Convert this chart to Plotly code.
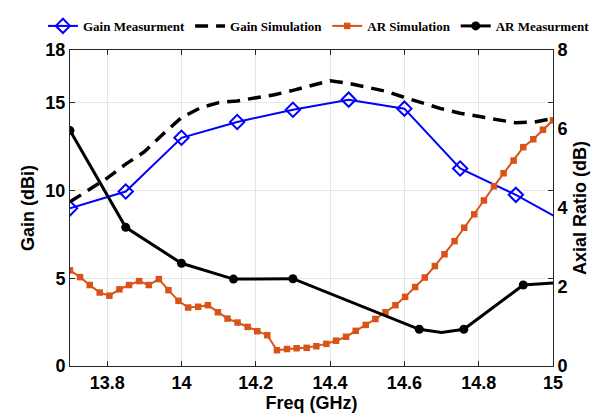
import plotly.graph_objects as go

# ---------------- data ----------------
gain_meas_freq = [13.7, 13.85, 14.0, 14.15, 14.3, 14.45, 14.6, 14.75, 14.9, 15.05]
gain_meas = [8.98, 9.94, 13.0, 13.9, 14.6, 15.17, 14.66, 11.25, 9.75, 8.0]

gain_sim_freq = [13.70, 13.75, 13.80, 13.85, 13.90, 13.95, 14.00, 14.05, 14.10, 14.15,
                 14.20, 14.25, 14.30, 14.35, 14.40, 14.45, 14.50, 14.55, 14.60, 14.65,
                 14.70, 14.75, 14.80, 14.85, 14.90, 14.95, 15.00]
gain_sim = [9.35, 10.05, 10.7, 11.5, 12.2, 13.2, 14.15, 14.7, 15.0, 15.1,
            15.25, 15.45, 15.7, 16.0, 16.25, 16.1, 15.9, 15.65, 15.3, 14.95,
            14.65, 14.4, 14.2, 14.0, 13.85, 13.9, 14.1]

ar_sim_freq = [13.700, 13.727, 13.753, 13.780, 13.806, 13.833, 13.859, 13.886, 13.912, 13.939,
               13.965, 13.992, 14.018, 14.045, 14.071, 14.098, 14.124, 14.151, 14.178, 14.204,
               14.231, 14.257, 14.284, 14.310, 14.337, 14.363, 14.390, 14.416, 14.443, 14.469,
               14.496, 14.522, 14.549, 14.576, 14.602, 14.629, 14.655, 14.682, 14.708, 14.735,
               14.761, 14.788, 14.814, 14.841, 14.867, 14.894, 14.920, 14.947, 14.973, 15.000]
ar_sim = [2.42, 2.25, 2.05, 1.86, 1.78, 1.94, 2.05, 2.15, 2.05, 2.2,
          1.92, 1.65, 1.48, 1.5, 1.54, 1.36, 1.2, 1.1, 0.99, 0.88,
          0.78, 0.40, 0.43, 0.45, 0.46, 0.5, 0.56, 0.64, 0.74, 0.89,
          1.04, 1.19, 1.36, 1.54, 1.75, 2.0, 2.24, 2.53, 2.83, 3.16,
          3.5, 3.84, 4.19, 4.55, 4.88, 5.2, 5.54, 5.74, 5.98, 6.22]

ar_meas_freq = [13.7, 13.85, 14.0, 14.14, 14.3, 14.64, 14.7, 14.76, 14.92, 15.0]
ar_meas = [5.96, 3.51, 2.6, 2.2, 2.21, 0.93, 0.85, 0.93, 2.05, 2.1]
ar_meas_has_marker = [True, True, True, True, True, True, False, True, True, False]

x_ticks = [13.8, 14.0, 14.2, 14.4, 14.6, 14.8, 15.0]
x_tick_text = ["13.8", "14", "14.2", "14.4", "14.6", "14.8", "15"]
gain_ticks = [0, 5, 10, 15, 18]
ar_ticks = [0, 2, 4, 6, 8]

# ---------------- figure ----------------
AX = "#262626"
GRID = "#e6e6e6"
FONT = "Liberation Sans"

fig = go.Figure()
fig.add_trace(go.Scatter(
    x=gain_meas_freq, y=gain_meas, name="Gain Measurment", mode="lines+markers",
    line=dict(color="#0000ff", width=2),
    marker=dict(symbol="diamond-open", size=11, color="#0000ff", line=dict(width=2)),
    yaxis="y"))
fig.add_trace(go.Scatter(
    x=gain_sim_freq, y=gain_sim, name="Gain Simulation", mode="lines",
    line=dict(color="black", width=3.5, dash="13px,8px"),
    yaxis="y"))
fig.add_trace(go.Scatter(
    x=ar_sim_freq, y=ar_sim, name="AR Simulation", mode="lines+markers",
    line=dict(color="#d95319", width=2),
    marker=dict(symbol="square", size=6.5, color="#d95319"),
    yaxis="y2"))
fig.add_trace(go.Scatter(
    x=ar_meas_freq, y=ar_meas, name="AR Measurment", mode="lines+markers",
    line=dict(color="black", width=3),
    marker=dict(symbol="circle", size=9,
                color=["black" if m else "rgba(0,0,0,0)" for m in ar_meas_has_marker]),
    yaxis="y2"))

fig.update_layout(
    width=603, height=420,
    margin=dict(l=70, r=50, t=49, b=54),
    paper_bgcolor="white", plot_bgcolor="white",
    font=dict(family=FONT, size=18, color="black", weight="bold"),
    showlegend=True,
    legend=dict(orientation="h", x=-0.056, xanchor="left", y=1.12, yanchor="top",
                font=dict(family="Liberation Serif", size=13, color="black", weight="bold"),
                itemwidth=30, tracegroupgap=0, bgcolor="rgba(0,0,0,0)"),
    xaxis=dict(range=[13.7, 15.0], tickvals=x_ticks, ticktext=x_tick_text,
               showgrid=True, gridcolor=GRID, gridwidth=1,
               showline=True, linecolor=AX, linewidth=1, mirror="ticks",
               ticks="inside", ticklen=5, tickcolor=AX, zeroline=False,
               title=dict(text="Freq (GHz)", standoff=4,
                          font=dict(size=18, family=FONT, weight="bold"))),
    yaxis=dict(range=[0, 18], tickvals=gain_ticks,
               showgrid=True, gridcolor=GRID, gridwidth=1,
               showline=True, linecolor=AX, linewidth=1, mirror="ticks",
               ticks="inside", ticklen=5, tickcolor=AX, zeroline=False,
               title=dict(text="Gain (dBi)", standoff=6,
                          font=dict(size=18, family=FONT, weight="bold"))),
    yaxis2=dict(range=[0, 8], tickvals=ar_ticks, overlaying="y", side="right",
                showgrid=False, showline=True, linecolor=AX, linewidth=1,
                ticks="", zeroline=False,
                title=dict(text="Axial Ratio (dB)", standoff=6,
                           font=dict(size=18, family=FONT, weight="bold"))),
)

fig.write_html("out.html")
